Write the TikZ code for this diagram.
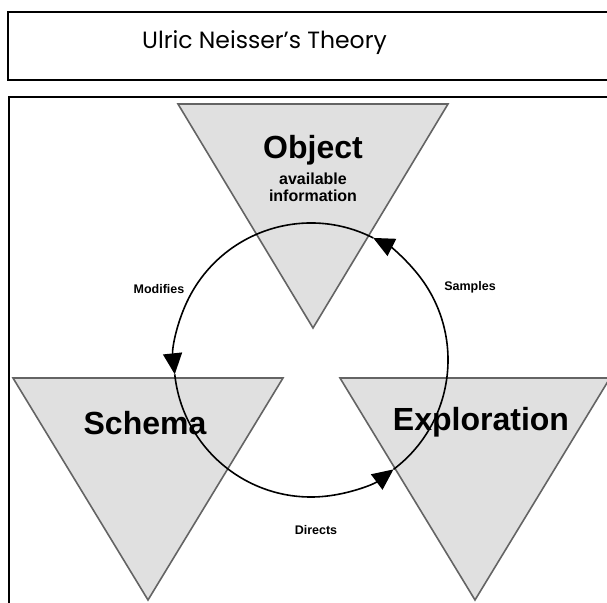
\documentclass[tikz,border=0pt]{standalone}
\usepackage{fontspec}
\usepackage{tikz}
\usetikzlibrary{calc}
\usetikzlibrary{arrows.meta}
\newfontfamily\titlefont{Poppins}
\newfontfamily\diagfont{Liberation Sans}
\definecolor{triFill}{RGB}{224,224,224}
\definecolor{triLine}{RGB}{100,100,100}

\begin{document}
\begin{tikzpicture}[x=1pt, y=1pt,
		frame/.style={draw=black, line width=2pt},
		wedge/.style={fill=triFill, draw=triLine, line width=1.6pt, line join=miter},
		bigword/.style={font=\diagfont\bfseries\fontsize{32}{32}\selectfont},
		smallword/.style={font=\diagfont\bfseries\fontsize{16}{17}\selectfont, align=center},
		cyclelabel/.style={font=\diagfont\bfseries\fontsize{12.5}{13}\selectfont},
		cycle/.style={line width=1.6pt, -{Triangle[length=21pt,width=19pt]}}]
		\clip (0,0) rectangle (607,602);
		% frames
		\draw[frame] (8,590) rectangle (620,522);
		\node[font=\titlefont\fontsize{23.5}{24}\selectfont, anchor=base] (title) at (264.5,553) {Ulric Neisser’s Theory};
		\draw[frame] (9,505) rectangle (620,-10);
		% the three triangles
		\draw[wedge] (178,498) -- (448,498) -- (313,274) -- cycle;
		\draw[wedge] (13,224) -- (283,224) -- (148,2) -- cycle;
		\draw[wedge] (340,224) -- (610,224) -- (475,2) -- cycle;
		\node[bigword] (object) at (313,452) {Object};
		\node[smallword] (info) at (313,415) {available\\information};
		\node[bigword] (schema) at (145,179) {Schema};
		\node[bigword] (explore) at (481,180) {Exploration};
		% perceptual cycle
		\coordinate (c) at (311,242);
		\coordinate (pS) at ($(c)+(63:137)$);
		\coordinate (pM) at ($(c)+(186:137)$);
		\coordinate (pD) at ($(c)+(307:137)$);
		\draw[cycle] (pD) arc[start angle=307, end angle=423, radius=137];
		\draw[cycle] (pS) arc[start angle=63, end angle=186, radius=137];
		\draw[cycle] (pM) arc[start angle=186, end angle=307, radius=137];
		\node[cyclelabel] (samples) at (470,315) {Samples};
		\node[cyclelabel] (modifies) at (159,313) {Modifies};
		\node[cyclelabel] (directs) at (316,72) {Directs};
	\end{tikzpicture}
\end{document}
